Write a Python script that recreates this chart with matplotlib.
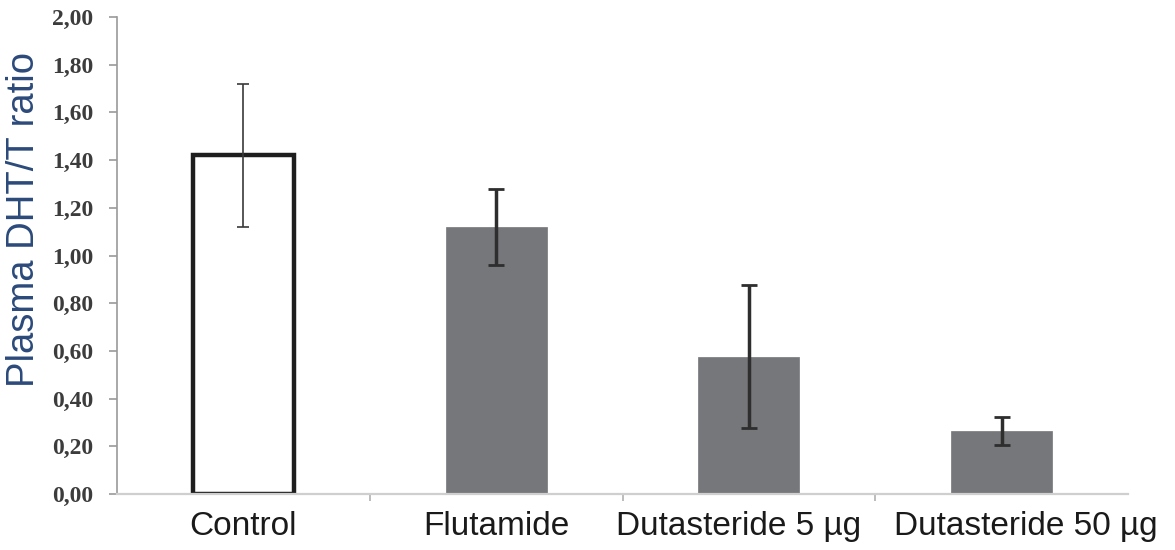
import numpy as np
import matplotlib.pyplot as plt
from matplotlib.ticker import FuncFormatter
from matplotlib.transforms import ScaledTranslation

groups = ['Control', 'Flutamide', 'Dutasteride 5 µg', 'Dutasteride 50 µg']
ratio_mean = [1.42, 1.12, 0.575, 0.265]
ratio_err = [0.30, 0.16, 0.30, 0.058]

fig = plt.figure(figsize=(11.75, 5.5), dpi=100)
ax = fig.add_axes([0.0996, 0.1018, 0.8604, 0.8672])

x = np.arange(len(groups))
face = ['white', '#76777b', '#76777b', '#76777b']
edge = ['#1e1e1e', '#76777b', '#76777b', '#76777b']
lw = [3.2, 0.5, 0.5, 0.5]
ax.bar(x, ratio_mean, width=0.4, color=face, edgecolor=edge, linewidth=lw, zorder=2)

# control gets a thin error bar, treatments a heavier one
ax.errorbar(x[:1], ratio_mean[:1], yerr=ratio_err[:1], fmt='none',
            ecolor='#3a3a3a', elinewidth=1.2, capsize=4, capthick=1.2, zorder=3)
ax.errorbar(x[1:], ratio_mean[1:], yerr=ratio_err[1:], fmt='none',
            ecolor='#2e2e2e', elinewidth=2.5, capsize=6, capthick=2.0, zorder=3)

ax.set_xlim(-0.5, len(groups) - 0.5)
ax.set_ylim(0, 2.0)
ax.set_yticks(np.arange(0, 2.01, 0.2))
ax.yaxis.set_major_formatter(FuncFormatter(lambda v, p: f'{v:.2f}'.replace('.', ',')))

for lab in ax.get_yticklabels():
    lab.set_fontfamily('Liberation Serif')
    lab.set_fontweight('bold')
    lab.set_fontsize(17)
    lab.set_color('#3c3c3c')
ax.tick_params(axis='y', length=6, width=1.2, color='#9a9a9a', pad=11)

# boundary ticks between groups, labels centred under the bars
ax.set_xticks(x[:-1] + 0.5)
ax.set_xticklabels([])
ax.set_xticks(x, groups, minor=True)
ax.tick_params(axis='x', which='major', length=5, width=1.2, color='#b0b0b0')
ax.tick_params(axis='x', which='minor', length=0, pad=12, labelsize=24,
               labelcolor='#1a1a1a')
shifts = [0, 0, -10, 24]
for lab, dx in zip(ax.get_xticklabels(minor=True), shifts):
    lab.set_fontfamily('Liberation Sans')
    lab.set_transform(lab.get_transform() + ScaledTranslation(dx / 100, 0, fig.dpi_scale_trans))

ax.set_ylabel('Plasma DHT/T ratio', fontsize=27.5, color='#2b4a7a', family='Liberation Sans')
ax.yaxis.set_label_coords(-0.074, 0.575)

ax.spines['top'].set_visible(False)
ax.spines['right'].set_visible(False)
ax.spines['left'].set_color('#9a9a9a')
ax.spines['left'].set_linewidth(1.2)
ax.spines['bottom'].set_color('#cfcfcf')
ax.spines['bottom'].set_linewidth(1.6)

fig.savefig('out.png', dpi=100)
